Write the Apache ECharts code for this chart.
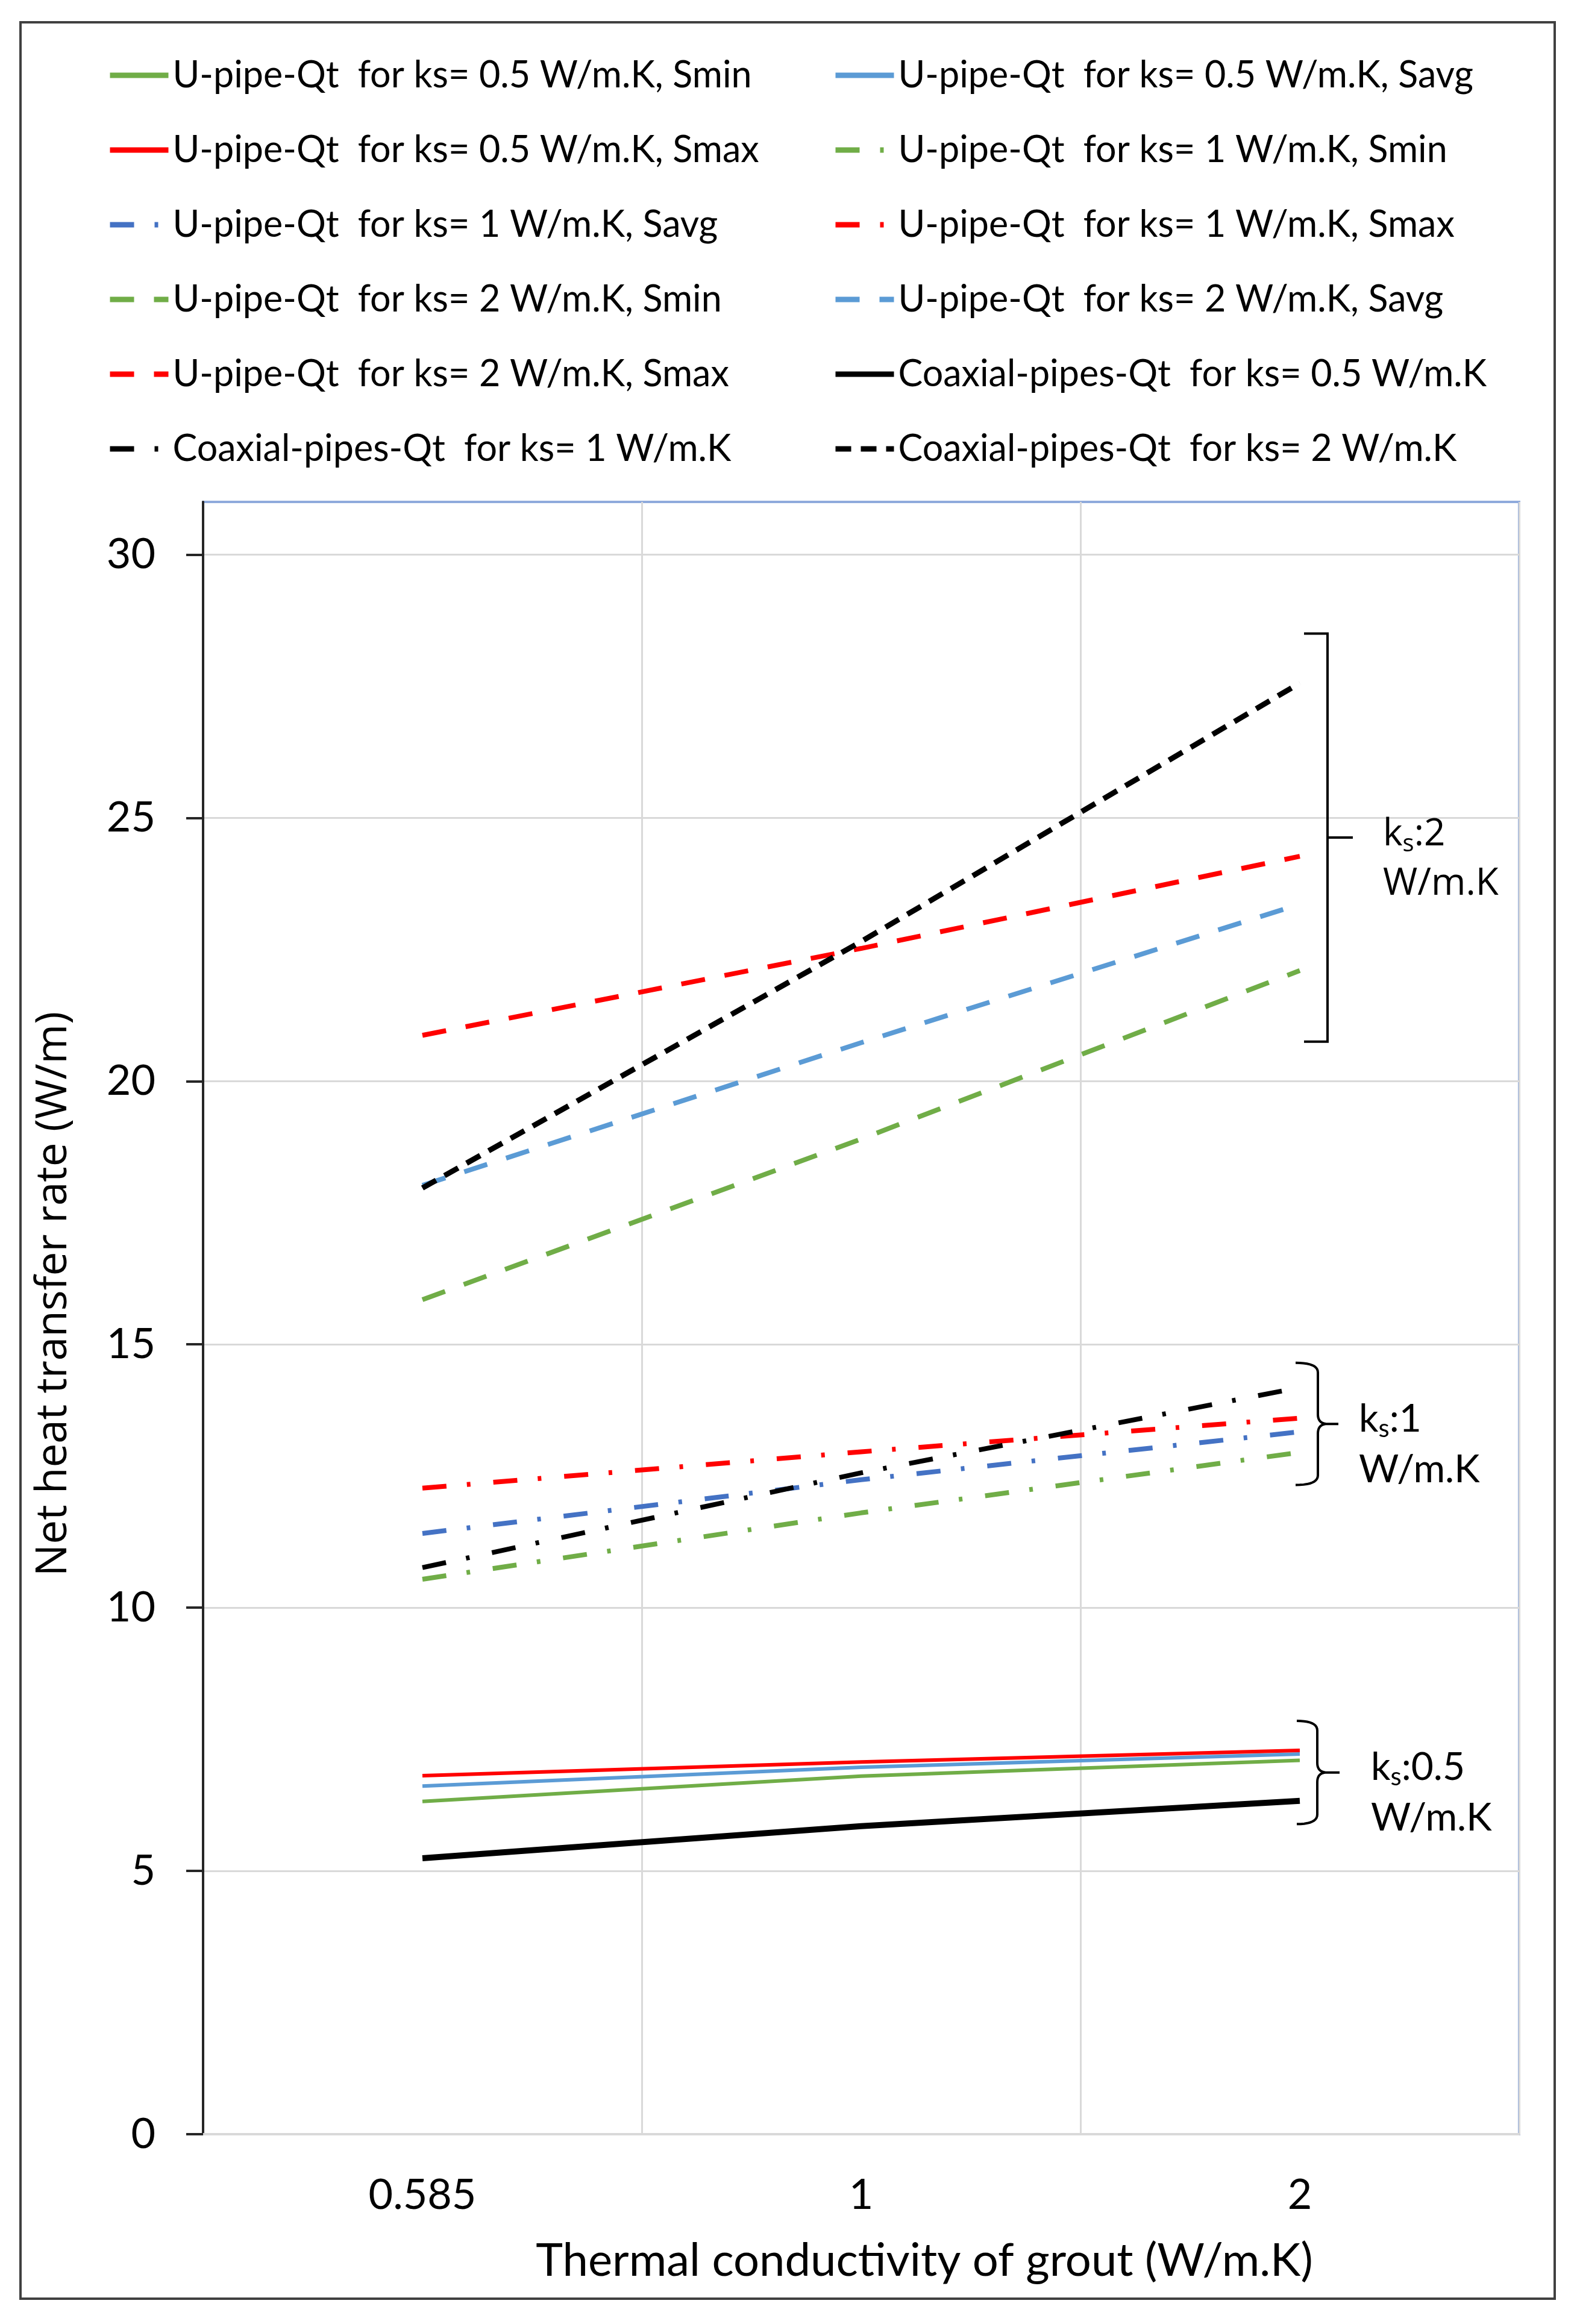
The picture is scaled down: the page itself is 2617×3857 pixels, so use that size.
<!DOCTYPE html>
<html><head><meta charset="utf-8">
<script src="https://cdn.jsdelivr.net/npm/echarts@6/dist/echarts.min.js"></script>
<style>html,body{margin:0;padding:0;background:#fff}#c{width:2617px;height:3857px}</style>
</head><body><div id="c"></div>
<script>
// ---- data ----
const categories = ['0.585', '1', '2'];
const yTicks = [0, 5, 10, 15, 20, 25, 30];

const uKs05Smin = [6.32, 6.80, 7.10];
const uKs05Savg = [6.61, 6.97, 7.22];
const uKs05Smax = [6.81, 7.07, 7.29];
const uKs1Smin  = [10.54, 11.80, 12.95];
const uKs1Savg  = [11.41, 12.43, 13.34];
const uKs1Smax  = [12.27, 12.96, 13.60];
const uKs2Smin  = [15.85, 18.90, 22.10];
const uKs2Savg  = [18.02, 20.73, 23.36];
const uKs2Smax  = [20.87, 22.52, 24.27];
const coaxKs05  = [5.24, 5.85, 6.33];
const coaxKs1   = [10.76, 12.56, 14.18];
const coaxKs2   = [17.97, 22.65, 27.56];

const names = [
  'U-pipe-Qt  for ks= 0.5 W/m.K, Smin',
  'U-pipe-Qt  for ks= 0.5 W/m.K, Savg',
  'U-pipe-Qt  for ks= 0.5 W/m.K, Smax',
  'U-pipe-Qt  for ks= 1 W/m.K, Smin',
  'U-pipe-Qt  for ks= 1 W/m.K, Savg',
  'U-pipe-Qt  for ks= 1 W/m.K, Smax',
  'U-pipe-Qt  for ks= 2 W/m.K, Smin',
  'U-pipe-Qt  for ks= 2 W/m.K, Savg',
  'U-pipe-Qt  for ks= 2 W/m.K, Smax',
  'Coaxial-pipes-Qt  for ks= 0.5 W/m.K',
  'Coaxial-pipes-Qt  for ks= 1 W/m.K',
  'Coaxial-pipes-Qt  for ks= 2 W/m.K'
];

// bracket annotations (value ranges) and their labels
const bracketTop    = [28.5, 14.65, 7.85];
const bracketBottom = [20.75, 12.33, 5.89];
const bracketKs     = [':2', ':1', ':0.5'];
const bracketUnit   = 'W/m.K';

// ---- styles ----
const GREEN = '#70AD47', LBLUE = '#5B9BD5', DBLUE = '#4472C4', RED = '#FF0000', BLACK = '#000000';
const DASHDOT = [40, 34, 6, 38];
const DASH = [40, 33];
const SQDOT = [26, 16];

function mk(name, data, color, width, type) {
  return {
    name, type: 'line', data, symbol: 'none', showSymbol: false,
    lineStyle: { color, width, type, cap: 'butt' },
    itemStyle: { color },
    emphasis: { disabled: true },
    silent: true
  };
}

const series = [
  mk(names[0], uKs05Smin, GREEN, 6, 'solid'),
  mk(names[1], uKs05Savg, LBLUE, 6, 'solid'),
  mk(names[2], uKs05Smax, RED, 6, 'solid'),
  mk(names[3], uKs1Smin, GREEN, 8, DASHDOT),
  mk(names[4], uKs1Savg, DBLUE, 8, DASHDOT),
  mk(names[5], uKs1Smax, RED, 8, DASHDOT),
  mk(names[6], uKs2Smin, GREEN, 8, DASH),
  mk(names[7], uKs2Savg, LBLUE, 8, DASH),
  mk(names[8], uKs2Smax, RED, 8, DASH),
  mk(names[9], coaxKs05, BLACK, 10, 'solid'),
  mk(names[10], coaxKs1, BLACK, 8, DASHDOT),
  mk(names[11], coaxKs2, BLACK, 9, SQDOT)
];

const legendText = { fontFamily: 'Lato', fontSize: 61, lineHeight: 70, color: '#000', padding: [0, 0, 0, 2] };
const legendBase = {
  orient: 'vertical', top: 85, itemWidth: 97, itemHeight: 14, itemGap: 54,
  textStyle: legendText, selectedMode: false,
  itemStyle: { opacity: 0 },
  lineStyle: { width: 9 }
};

const chart = echarts.init(document.getElementById('c'), null, { renderer: 'canvas' });
chart.setOption({
  animation: false,
  backgroundColor: '#fff',
  legend: [
    Object.assign({}, legendBase, { left: 173, data: names.filter((n, i) => i % 2 === 0) }),
    Object.assign({}, legendBase, { left: 1377, data: names.filter((n, i) => i % 2 === 1) })
  ],
  grid: { left: 337, right: 96, top: 833, bottom: 315, show: true, borderColor: '#8FAADC', borderWidth: 4, backgroundColor: 'transparent' },
  xAxis: {
    type: 'category', data: categories, boundaryGap: true,
    axisLine: { lineStyle: { color: '#D9D9D9', width: 4 } },
    axisTick: { show: false },
    axisLabel: { margin: 66, fontFamily: 'Lato', fontSize: 70, color: '#000' },
    splitLine: { show: true, interval: 0, lineStyle: { color: '#D9D9D9', width: 3 } },
    name: 'Thermal conductivity of grout (W/m.K)', nameLocation: 'middle', nameGap: 172,
    nameTextStyle: { fontFamily: 'Lato', fontSize: 76, color: '#000', padding: [0, 0, 0, 210] }
  },
  yAxis: {
    type: 'value', min: 0, max: 31, interval: 5,
    axisLine: { show: true, lineStyle: { color: '#262626', width: 4 } },
    axisTick: { show: true, length: 28, customValues: yTicks, lineStyle: { color: '#262626', width: 4 } },
    axisLabel: { margin: 79, customValues: yTicks, fontFamily: 'Lato', fontSize: 70, color: '#000',
      formatter: v => (v % 5 === 0 ? String(v) : '') },
    splitLine: { lineStyle: { color: '#D9D9D9', width: 3 } },
    name: 'Net heat transfer rate (W/m)', nameLocation: 'middle', nameGap: 212,
    nameTextStyle: { fontFamily: 'Open Sans', fontSize: 71, color: '#000', padding: [0, 0, 0, 80] }
  },
  series
});

// ---- annotations (brackets) placed through the chart's own scales ----
function px(i, v) { return chart.convertToPixel({ gridIndex: 0 }, [i, v]); }
function quad(pts, p0, p1, p2, n) {
  for (let i = 0; i <= n; i++) {
    const t = i / n, a = (1 - t) * (1 - t), b = 2 * (1 - t) * t, c = t * t;
    pts.push([a * p0[0] + b * p1[0] + c * p2[0], a * p0[1] + b * p1[1] + c * p2[1]]);
  }
}
function brace(xl, xv, xt, yt, ym, yb, r) {
  const p = [];
  quad(p, [xl, yt], [xv, yt], [xv, yt + r], 10);
  p.push([xv, ym - r]);
  quad(p, [xv, ym - r], [xv, ym], [xv + r, ym], 10);
  p.push([xt, ym]);
  p.push([xv + r, ym]);
  quad(p, [xv + r, ym], [xv, ym], [xv, ym + r], 10);
  p.push([xv, yb - r]);
  quad(p, [xv, yb - r], [xv, yb], [xl, yb], 10);
  return p;
}
const g = [];
const lastIdx = categories.length - 1;
const xEnd = px(lastIdx, 0)[0];
const LS = { stroke: '#000', lineWidth: 4, fill: null };

// ks:2 square bracket
{
  const yt = px(lastIdx, bracketTop[0])[1], yb = px(lastIdx, bracketBottom[0])[1], ym = (yt + yb) / 2;
  const xl = xEnd + 7, xv = xEnd + 46, xt = xEnd + 88;
  g.push({ type: 'polyline', shape: { points: [[xl, yt], [xv, yt], [xv, yb], [xl, yb]] }, style: LS, z: 100 });
  g.push({ type: 'polyline', shape: { points: [[xv, ym], [xt, ym]] }, style: LS, z: 100 });
  g.push({ type: 'text', x: xEnd + 138, y: ym - 5, z: 100, style: {
    text: '{a|k}{b|s}{a|' + bracketKs[0] + '}', verticalAlign: 'middle', align: 'left',
    rich: { a: { fontFamily: 'Open Sans', fontSize: 62, lineHeight: 74, fill: '#000' },
            b: { fontFamily: 'Open Sans', fontSize: 40, lineHeight: 34, verticalAlign: 'bottom', fill: '#000' } } } });
  g.push({ type: 'text', x: xEnd + 138, y: ym + 77, z: 100, style: {
    text: bracketUnit, verticalAlign: 'middle', align: 'left', fontFamily: 'Open Sans', fontSize: 62, fill: '#000' } });
}
// ks:1 and ks:0.5 curly braces
[[1, -7, 30, 64, 98], [2, -5, 29, 66, 118]].forEach(([k, dl, dv, dt, dtext]) => {
  const yt = px(lastIdx, bracketTop[k])[1], yb = px(lastIdx, bracketBottom[k])[1], ym = (yt + yb) / 2;
  g.push({ type: 'polyline', shape: { points: brace(xEnd + dl, xEnd + dv, xEnd + dt, yt, ym, yb, 16) }, style: LS, z: 100 });
  g.push({ type: 'text', x: xEnd + dtext, y: ym - 8, z: 100, style: {
    text: '{a|k}{b|s}{a|' + bracketKs[k] + '}', verticalAlign: 'middle', align: 'left',
    rich: { a: { fontFamily: 'Lato', fontSize: 64, lineHeight: 74, fill: '#000' },
            b: { fontFamily: 'Lato', fontSize: 42, lineHeight: 34, verticalAlign: 'bottom', fill: '#000' } } } });
  g.push({ type: 'text', x: xEnd + dtext, y: ym + 76, z: 100, style: {
    text: bracketUnit, verticalAlign: 'middle', align: 'left', fontFamily: 'Lato', fontSize: 64, fill: '#000' } });
});
// outer chart border
g.push({ type: 'rect', shape: { x: 34, y: 37, width: 2546, height: 3778 }, style: { fill: null, stroke: '#404040', lineWidth: 4 }, z: 100 });

chart.setOption({ graphic: g });
</script>
</body></html>
